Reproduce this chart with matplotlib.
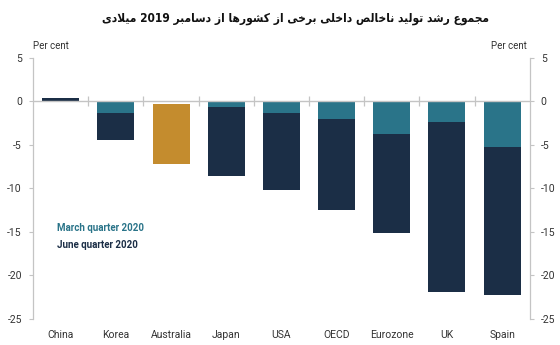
import numpy as np
import matplotlib
matplotlib.use("Agg")
import matplotlib.pyplot as plt

# Cumulative GDP change since December quarter 2019, per cent
countries = ["China", "Korea", "Australia", "Japan", "USA", "OECD", "Eurozone", "UK", "Spain"]
march_2020 = [np.nan, -1.3, -0.3, -0.6, -1.3, -2.0, -3.8, -2.4, -5.3]
june_2020 = [0.35, -4.4, -7.2, -8.6, -10.2, -12.5, -15.1, -21.9, -22.2]
yticks = [5, 0, -5, -10, -15, -20, -25]

title_fa = "مجموع رشد تولید ناخالص داخلی برخی از کشورها از دسامبر 2019 میلادی"

TEAL = "#2a7489"
NAVY = "#1b2e46"
GOLD = "#c48c2e"
GREY = "#c4c4c4"
TXT = "#333333"

# Arabic presentation forms: (isolated, final, initial, medial)
FORMS = {
    "ا": (0xFE8D, 0xFE8E), "ب": (0xFE8F, 0xFE90, 0xFE91, 0xFE92),
    "ت": (0xFE95, 0xFE96, 0xFE97, 0xFE98), "ج": (0xFE9D, 0xFE9E, 0xFE9F, 0xFEA0),
    "ح": (0xFEA1, 0xFEA2, 0xFEA3, 0xFEA4), "خ": (0xFEA5, 0xFEA6, 0xFEA7, 0xFEA8),
    "د": (0xFEA9, 0xFEAA), "ر": (0xFEAD, 0xFEAE), "ز": (0xFEAF, 0xFEB0),
    "س": (0xFEB1, 0xFEB2, 0xFEB3, 0xFEB4), "ش": (0xFEB5, 0xFEB6, 0xFEB7, 0xFEB8),
    "ص": (0xFEB9, 0xFEBA, 0xFEBB, 0xFEBC), "ع": (0xFEC9, 0xFECA, 0xFECB, 0xFECC),
    "ل": (0xFEDD, 0xFEDE, 0xFEDF, 0xFEE0), "م": (0xFEE1, 0xFEE2, 0xFEE3, 0xFEE4),
    "ن": (0xFEE5, 0xFEE6, 0xFEE7, 0xFEE8), "ه": (0xFEE9, 0xFEEA, 0xFEEB, 0xFEEC),
    "و": (0xFEED, 0xFEEE), "ک": (0xFB8E, 0xFB8F, 0xFB90, 0xFB91),
    "ی": (0xFBFC, 0xFBFD, 0xFBFE, 0xFBFF),
}
LAM_ALEF = (0xFEFB, 0xFEFC)


def shape_word(word):
    # merge lam + alef into one ligature token
    chars = []
    i = 0
    while i < len(word):
        if word[i] == "ل" and i + 1 < len(word) and word[i + 1] == "ا":
            chars.append("لا")
            i += 2
        else:
            chars.append(word[i])
            i += 1

    def dual(c):
        return c in FORMS and len(FORMS[c]) == 4

    out = []
    for k, c in enumerate(chars):
        prev_joins = k > 0 and dual(chars[k - 1])
        next_exists = k + 1 < len(chars) and (chars[k + 1] in FORMS or chars[k + 1] == "لا")
        if c == "لا":
            out.append(chr(LAM_ALEF[1] if prev_joins else LAM_ALEF[0]))
            continue
        if c not in FORMS:
            out.append(c)
            continue
        f = FORMS[c]
        if len(f) == 4 and next_exists:
            out.append(chr(f[3] if prev_joins else f[2]))
        else:
            out.append(chr(f[1] if prev_joins else f[0]))
    return "".join(reversed(out))


def rtl(text):
    words = []
    for w in text.split(" "):
        words.append(w if w.isdigit() else shape_word(w))
    return " ".join(reversed(words))


plt.rcParams["font.family"] = ["Roboto", "DejaVu Sans"]

fig = plt.figure(figsize=(5.6, 3.45), dpi=100)
ax = fig.add_axes([0.059, 0.0754, 0.887, 0.757])

x = np.arange(len(countries))
march = np.nan_to_num(np.array(march_2020))
june = np.array(june_2020)
width = 0.67

june_colors = [GOLD if c == "Australia" else NAVY for c in countries]
march_colors = ["none" if c == "Australia" else TEAL for c in countries]

ax.bar(x, june - march, bottom=march, width=width, color=june_colors, zorder=2)
ax.bar(x, march, width=width, color=march_colors, zorder=2)

# zero line with small separators between categories
ax.axhline(0, color=GREY, lw=1.0, zorder=3)
bounds = x[:-1] + 0.5
ax.plot(bounds, np.zeros_like(bounds), ls="none", marker="|", ms=7,
        mew=0.9, color=GREY, zorder=3)

ax.set_xlim(-0.5, len(countries) - 0.5)
ax.set_ylim(-25, 5)
ax.set_yticks(yticks)
ax.set_yticklabels([str(v) for v in yticks])
ax.tick_params(axis="y", which="both", left=True, right=True, labelleft=True,
               labelright=True, length=3, width=0.8, color=GREY,
               labelsize=7.5, labelcolor=TXT, pad=5)
ax.set_xticks(x)
ax.set_xticklabels(countries)
ax.tick_params(axis="x", length=0, labelsize=7.5, labelcolor=TXT, pad=8)

for side in ["top", "bottom"]:
    ax.spines[side].set_visible(False)
for side in ["left", "right"]:
    ax.spines[side].set_color(GREY)
    ax.spines[side].set_linewidth(0.9)

ax.text(0.0, 1.025, "Per cent", transform=ax.transAxes, ha="left", va="bottom",
        fontsize=7, color=TXT)
ax.text(0.995, 1.025, "Per cent", transform=ax.transAxes, ha="right", va="bottom",
        fontsize=7, color=TXT)

ax.text(0.048, 0.335, "March quarter 2020", transform=ax.transAxes, fontsize=7,
        fontweight="bold", color=TEAL)
ax.text(0.048, 0.273, "June quarter 2020", transform=ax.transAxes, fontsize=7,
        fontweight="bold", color=NAVY)

fig.text(0.527, 0.945, rtl(title_fa), ha="center", va="center", fontsize=8.6,
         fontweight="bold", fontstretch="condensed", family="DejaVu Sans",
         color="#111111")

fig.savefig("out.png", dpi=100, facecolor="white")
